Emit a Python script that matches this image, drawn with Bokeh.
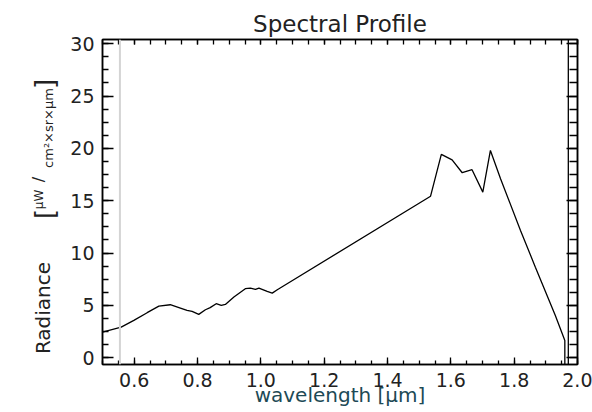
import math

from bokeh.core.properties import value
from bokeh.embed import file_html
from bokeh.layouts import row
from bokeh.models import (ColumnDataSource, CustomJSTickFormatter, LinearAxis,
                          NumeralTickFormatter, Range1d, SingleIntervalTicker,
                          Span)
from bokeh.plotting import figure
from bokeh.resources import INLINE

# Spectral radiance profile
wavelength = [0.500, 0.559, 0.599, 0.641, 0.678, 0.714, 0.746, 0.767, 0.783,
              0.804, 0.825, 0.840, 0.859, 0.875, 0.888, 0.915, 0.951, 0.967,
              0.983, 0.994, 1.020, 1.036, 1.052, 1.536, 1.570, 1.604, 1.636,
              1.667, 1.701, 1.725, 1.757, 1.820, 1.867, 1.930, 1.960, 1.960]
radiance = [2.45, 2.92, 3.56, 4.30, 4.93, 5.06, 4.74, 4.52, 4.42,
            4.14, 4.58, 4.78, 5.16, 5.00, 5.09, 5.79, 6.59, 6.65,
            6.52, 6.65, 6.33, 6.17, 6.49, 15.43, 19.42, 18.90, 17.67,
            17.96, 15.82, 19.80, 17.10, 12.16, 8.65, 4.04, 1.65, -0.70]

# band markers
marker_left = 0.555
marker_right = 1.971

x_range = (0.5, 2.0)
y_range = (-0.65, 30.4)

FONT = "DejaVu Sans"
INK = "#222222"
XLABEL_COLOR = "#1d4a55"

LABEL_W = 60
W, H = 592, 412
TOP, BOTTOM = 39, 48

p = figure(width=W - LABEL_W, height=H, x_range=x_range, y_range=y_range,
           output_backend="svg", toolbar_location=None,
           x_axis_location=None, y_axis_location=None,
           min_border_left=102 - LABEL_W, min_border_right=15,
           min_border_top=TOP, min_border_bottom=BOTTOM)
p.xgrid.visible = False
p.ygrid.visible = False
p.outline_line_color = "black"
p.outline_line_width = 1.5
p.background_fill_color = "white"
p.border_fill_color = "white"

p.title.text = "Spectral Profile"
p.title.align = "center"
p.title.text_font = FONT
p.title.text_font_size = "23px"
p.title.text_font_style = "normal"
p.title.text_color = INK
p.title.standoff = 6

blank = CustomJSTickFormatter(code="return ''")


def style_axis(ax, major_len, minor_len, labelled):
    ax.axis_line_color = "black"
    ax.axis_line_width = 1.5
    ax.major_tick_line_color = "black"
    ax.minor_tick_line_color = "black"
    ax.major_tick_line_width = 1.3
    ax.minor_tick_line_width = 1.3
    ax.major_tick_in = major_len
    ax.major_tick_out = 0
    ax.minor_tick_in = minor_len
    ax.minor_tick_out = 0
    ax.major_label_text_font = FONT
    ax.major_label_text_font_size = "19px"
    ax.major_label_text_color = INK
    ax.major_label_standoff = 8
    if not labelled:
        ax.formatter = blank
        ax.major_label_standoff = 0


def xticker():
    return SingleIntervalTicker(interval=0.2, num_minor_ticks=4)


def yticker():
    return SingleIntervalTicker(interval=5, num_minor_ticks=4)


bottom = LinearAxis(ticker=xticker(), formatter=NumeralTickFormatter(format="0.0"))
top = LinearAxis(ticker=xticker())
left = LinearAxis(ticker=yticker())
right = LinearAxis(ticker=yticker())
style_axis(bottom, 7, 4, True)
style_axis(top, 5, 5, False)
style_axis(left, 11, 6, True)
style_axis(right, 11, 8, False)

bottom.axis_label = "wavelength [\u03bcm]"
bottom.axis_label_text_font = FONT
bottom.axis_label_text_font_size = "20px"
bottom.axis_label_text_font_style = "normal"
bottom.axis_label_text_color = XLABEL_COLOR
bottom.axis_label_standoff = -7

p.add_layout(bottom, "below")
p.add_layout(top, "above")
p.add_layout(left, "left")
p.add_layout(right, "right")

p.add_layout(Span(location=marker_left, dimension="height",
                  line_color="#d4d4d4", line_width=2))
p.add_layout(Span(location=marker_right, dimension="height",
                  line_color="black", line_width=1.3))

src = ColumnDataSource(data=dict(x=wavelength, y=radiance))
p.line("x", "y", source=src, line_color="black", line_width=1.3)

# Rotated y-axis title, built from pieces so the unit can be set as a
# small stacked fraction.  The strip's frame spans the same rows as the
# main frame; its coordinates are canvas pixels with y growing downward,
# each piece placed by its centre.
ylab_text = ["Radiance", "[", "\u03bcW", "/", "cm\u00b2\u00d7sr\u00d7\u03bcm", "]"]
ylab_x = [42, 44, 38, 38, 48, 44]
ylab_y = [307.5, 213.5, 199, 179, 127.5, 83.5]
ylab_size = ["20px", "26px", "12px", "16px", "13px", "26px"]

lab = figure(width=LABEL_W, height=H, output_backend="svg",
             toolbar_location=None, x_range=Range1d(0, LABEL_W),
             y_range=Range1d(H - BOTTOM, TOP),
             min_border_left=0, min_border_right=0,
             min_border_top=TOP, min_border_bottom=BOTTOM)
lab.axis.visible = False
lab.grid.visible = False
lab.outline_line_color = None
lab.background_fill_color = "white"
lab.border_fill_color = "white"
lab_src = ColumnDataSource(data=dict(x=ylab_x, y=ylab_y, text=ylab_text,
                                     size=ylab_size))
lab.text("x", "y", text="text", source=lab_src, angle=math.pi / 2,
         text_font=value(FONT), text_font_size="size", text_color=INK,
         text_align="center", text_baseline="middle")

layout = row(lab, p, spacing=0)
open("out.html", "w").write(file_html(layout, INLINE))
